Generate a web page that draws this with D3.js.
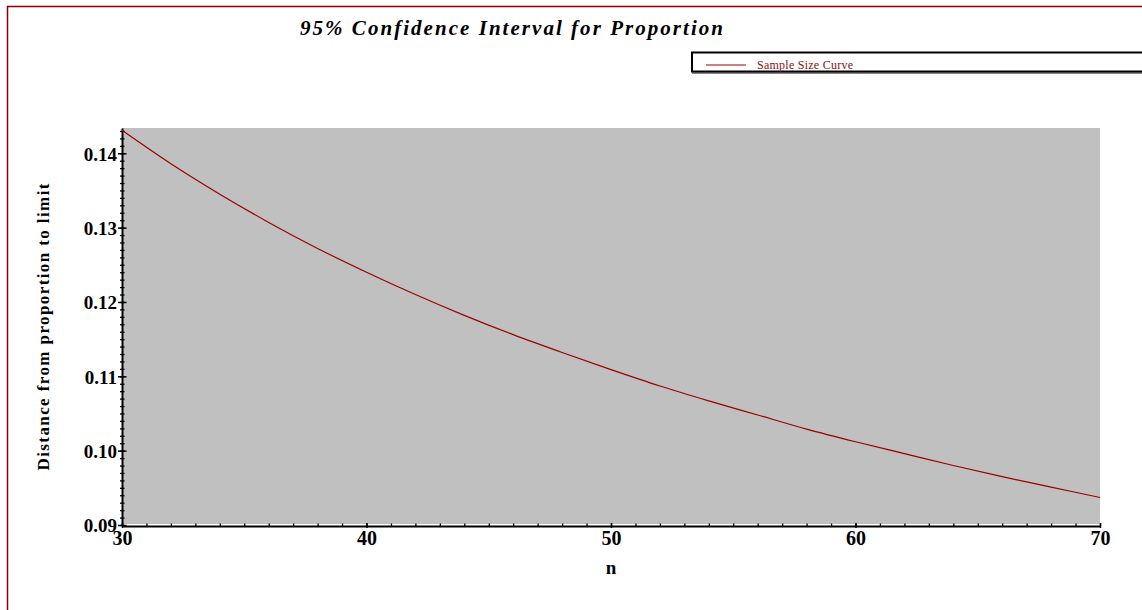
<!DOCTYPE html>
<html>
<head>
<meta charset="utf-8">
<script src="https://cdn.jsdelivr.net/npm/d3@7"></script>
<style>
  body { margin: 0; background: #fff; }
  svg text { font-family: "Liberation Serif", "Times New Roman", serif; }
</style>
</head>
<body>
<script>
// values
var nValues = [30, 32, 34, 36, 38, 40, 42, 44, 46, 48, 50, 52, 54, 56, 58, 60, 62, 64, 66, 68, 70];
var distValues = [0.1431, 0.1386, 0.1345, 0.1307, 0.1272, 0.1240, 0.1210, 0.1182, 0.1156, 0.1132,
                  0.1109, 0.1087, 0.1067, 0.1048, 0.1029, 0.1012, 0.0996, 0.0980, 0.0965, 0.0951, 0.0937];
var xTicks = [30, 40, 50, 60, 70];
var yTicks = [0.09, 0.10, 0.11, 0.12, 0.13, 0.14];
var titleText = "95% Confidence Interval for Proportion";
var legendText = "Sample Size Curve";

var width = 1142, height = 610;
var curveColor = "#990000";

var svg = d3.select("body").append("svg")
    .attr("width", width)
    .attr("height", height);

// dark red frame (only top and left visible)
svg.append("line").attr("x1", 7).attr("x2", width).attr("y1", 6.5).attr("y2", 6.5)
    .attr("stroke", "#8b0000").attr("stroke-width", 1.5);
svg.append("line").attr("x1", 7.5).attr("x2", 7.5).attr("y1", 6).attr("y2", height)
    .attr("stroke", "#8b0000").attr("stroke-width", 1.5);

var plot = {left: 122, right: 1100, top: 128, bottom: 525};

var x = d3.scaleLinear().domain([30, 70]).range([plot.left, plot.right]);
var y = d3.scaleLinear().domain([0.09, 0.1434]).range([plot.bottom, plot.top]);

// grey plot background
svg.append("rect")
    .attr("x", plot.left).attr("y", plot.top)
    .attr("width", plot.right - plot.left).attr("height", plot.bottom - 1 - plot.top)
    .attr("fill", "#c0c0c0");

// y axis minor ticks
var yMinor = d3.range(90, 144).map(function(d){ return d / 1000; });
var yMin = svg.append("g")
    .attr("transform", "translate(" + plot.left + ",0)")
    .call(d3.axisLeft(y).tickValues(yMinor).tickFormat("").tickSize(2).tickSizeOuter(0));
yMin.select(".domain").remove();
yMin.selectAll(".tick line").attr("x1", 2.5).attr("stroke-width", 1.3);

// y axis major
var yAx = svg.append("g")
    .attr("transform", "translate(" + plot.left + ",0)")
    .call(d3.axisLeft(y).tickValues(yTicks).tickFormat(d3.format(".2f")).tickSize(4).tickSizeOuter(0));
yAx.select(".domain").attr("stroke-width", 2);
yAx.selectAll(".tick line").attr("x1", 4.5).attr("stroke-width", 1.5);
yAx.selectAll(".tick text")
    .attr("x", -5)
    .attr("dy", "0.36em")
    .style("font-size", "19px")
    .style("font-weight", "bold")
    .attr("fill", "#000");

// x axis minor ticks
var xMinor = d3.range(30, 71);
var xMin = svg.append("g")
    .attr("transform", "translate(0," + (plot.bottom + 1) + ")")
    .call(d3.axisTop(x).tickValues(xMinor).tickFormat("").tickSize(2.5).tickSizeOuter(0));
xMin.select(".domain").remove();
xMin.selectAll(".tick line").attr("stroke-width", 1.3);

// x axis major
var xAx = svg.append("g")
    .attr("transform", "translate(0," + (plot.bottom + 1) + ")")
    .call(d3.axisBottom(x).tickValues(xTicks).tickFormat(d3.format("d")).tickSize(2).tickSizeOuter(0));
xAx.select(".domain").attr("stroke-width", 2);
xAx.selectAll(".tick text")
    .attr("y", 5)
    .attr("dy", "0.71em")
    .style("font-size", "20px")
    .style("font-weight", "bold")
    .attr("fill", "#000");
xAx.selectAll(".tick line").attr("y1", -3).attr("stroke-width", 1.5);

// the curve
var line = d3.line()
    .x(function(d, i){ return x(nValues[i]); })
    .y(function(d){ return y(d); })
    .curve(d3.curveMonotoneX);

svg.append("path")
    .datum(distValues)
    .attr("d", line)
    .attr("fill", "none")
    .attr("stroke", curveColor)
    .attr("stroke-width", 1.2);

// title
svg.append("text")
    .attr("x", 300).attr("y", 35)
    .attr("textLength", 423)
    .attr("lengthAdjust", "spacing")
    .style("font-size", "21px")
    .style("font-weight", "bold")
    .style("font-style", "italic")
    .text(titleText);

// legend
svg.append("rect")
    .attr("x", 693).attr("y", 54)
    .attr("width", 470).attr("height", 19)
    .attr("fill", "none").attr("stroke", "#888").attr("stroke-width", 2);
svg.append("rect")
    .attr("x", 692).attr("y", 52.5)
    .attr("width", 470).attr("height", 19)
    .attr("fill", "#fff").attr("stroke", "#000").attr("stroke-width", 2);
svg.append("line")
    .attr("x1", 706).attr("x2", 746).attr("y1", 65).attr("y2", 65)
    .attr("stroke", curveColor).attr("stroke-width", 1);
svg.append("text")
    .attr("x", 757).attr("y", 68.5)
    .attr("textLength", 96)
    .attr("lengthAdjust", "spacing")
    .attr("fill", "#8b1010")
    .style("font-size", "12px")
    .text(legendText);

// axis labels
svg.append("text")
    .attr("x", x(50)).attr("y", 574)
    .style("text-anchor", "middle")
    .style("font-size", "19px")
    .style("font-weight", "bold")
    .text("n");

svg.append("text")
    .attr("transform", "translate(49,327) rotate(-90)")
    .attr("text-anchor", "middle")
    .attr("textLength", 287)
    .attr("lengthAdjust", "spacing")
    .style("font-size", "17px")
    .style("font-weight", "bold")
    .text("Distance from proportion to limit");
</script>
</body>
</html>
